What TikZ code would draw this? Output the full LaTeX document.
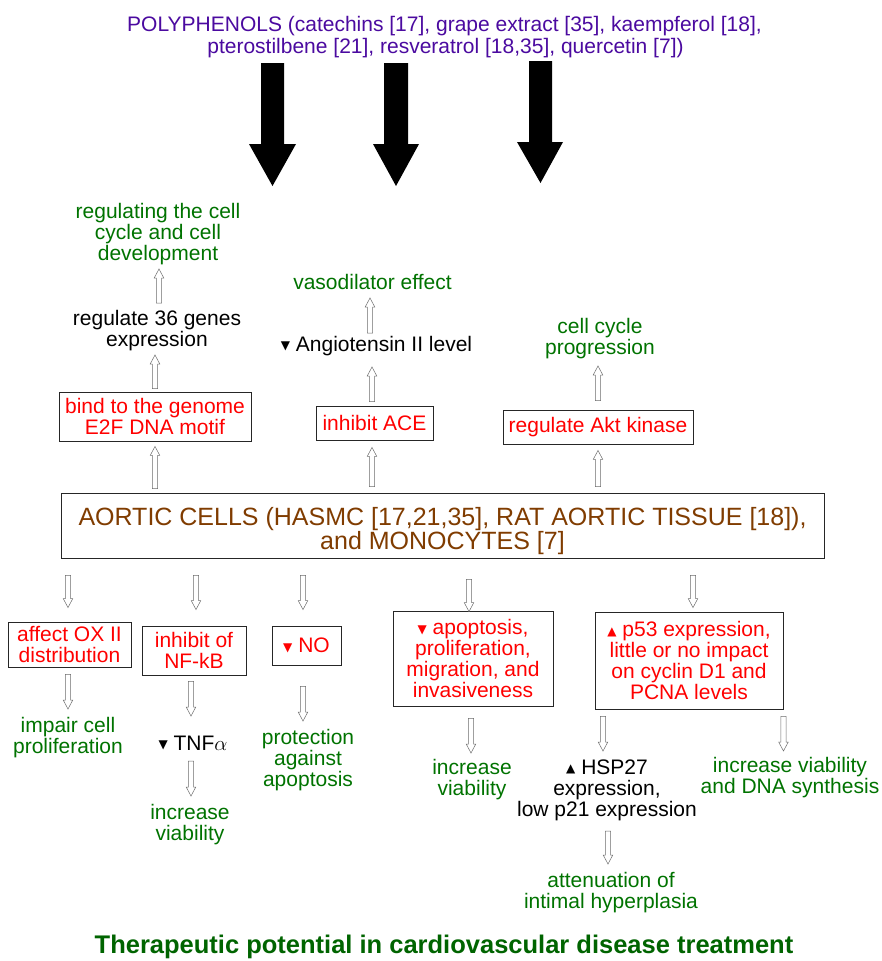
\documentclass[tikz,border=0pt]{standalone}
\usepackage{fontspec}
\setmainfont{Liberation Sans}
\newfontfamily\symfont{DejaVu Sans}
\usetikzlibrary{calc}
\definecolor{tpurple}{RGB}{75,10,160}
\definecolor{tbrown}{RGB}{128,60,0}
\definecolor{tgreen}{RGB}{0,115,0}
\definecolor{tdgreen}{RGB}{0,100,0}
\newcommand{\tdn}{\raisebox{1.5pt}{\symfont\fontsize{12}{12}\selectfont ▼}}
\newcommand{\tup}{\raisebox{1.5pt}{\symfont\fontsize{12}{12}\selectfont ▲}}
\begin{document}
\begin{tikzpicture}[x=1pt,y=-1pt,
  every node/.style={font=\fontsize{21}{21}\selectfont, align=center, inner sep=0pt},
  box/.style={draw=black!85, line width=0.9pt, text=red},
  gtext/.style={text=tgreen},
  hollow/.style={draw=gray!85!black, line width=0.5pt, fill=white,
    to path={let \p1=(\tikztostart), \p2=(\tikztotarget), \n1={2*(\y2>\y1)-1} in
      (\x1-2.6pt,\y1) -- (\x1-2.6pt,{\y2-\n1*9pt}) -- (\x1-4.8pt,{\y2-\n1*9pt}) -- (\x1,\y2)
      -- (\x1+4.8pt,{\y2-\n1*9pt}) -- (\x1+2.6pt,{\y2-\n1*9pt}) -- (\x1+2.6pt,\y1) -- cycle}}
]
\useasboundingbox (0,0) rectangle (882,961);
\fill[white] (0,0) rectangle (882,961);

% title
\node[text=tpurple] (t1) at (444.5,26) {POLYPHENOLS (catechins [17], grape extract [35], kaempferol [18],};
\node[text=tpurple] (t2) at (445.5,48) {pterostilbene [21], resveratrol [18,35], quercetin [7])};

% big black arrows
\fill (261,63) -- (284,63) -- (284,144) -- (296,144) -- (272.5,186) -- (249,144) -- (261,144) -- cycle;
\fill (384,63) -- (408,63) -- (408,144) -- (419,144) -- (396,186) -- (373,144) -- (384,144) -- cycle;
\fill (529,61) -- (552,61) -- (552,142) -- (563,142) -- (540.5,183) -- (517,142) -- (529,142) -- cycle;

% upper nodes
\node[gtext] (regcell) at (158,234) {regulating the cell\\cycle and cell\\development};
\node (reg36) at (157,331) {regulate 36 genes\\expression};
\node[box, minimum width=192, minimum height=49] (bind) at (155,416.5) {bind to the genome\\E2F DNA motif};
\node[gtext] (vaso) at (372.5,282) {vasodilator effect};
\node (angio) at (376.5,346) {\tdn\ Angiotensin II level};
\node[box, minimum width=117, minimum height=34] (ace) at (374.5,423) {inhibit ACE};
\node[gtext] (cellcyc) at (600,338.5) {cell cycle\\progression};
\node[box, minimum width=190, minimum height=34] (akt) at (598,427) {regulate Akt kinase};

% aortic
\node[box, text=tbrown, minimum width=763, minimum height=65, font=\fontsize{25}{21.6}\selectfont] (aortic) at (442.5,525.5) {\rule{0pt}{29pt}AORTIC CELLS (HASMC [17,21,35], RAT AORTIC TISSUE [18]),\\and MONOCYTES [7]};

% lower nodes
\node[box, minimum width=123, minimum height=45] (ox) at (69.5,644.5) {affect OX II\\distribution};
\node[box, minimum width=104, minimum height=49] (nfkb) at (194,650.5) {inhibit of\\NF-kB};
\node[box, minimum width=69, minimum height=39] (no) at (306.5,645.5) {\tdn\ NO};
\node[box, minimum width=160, minimum height=95] (apop) at (473,658.5) {\tdn\ apoptosis,\\proliferation,\\migration, and\\invasiveness};
\node[box, minimum width=188, minimum height=97] (p53) at (689,660.5) {\tup\ p53 expression,\\little or no impact\\on cyclin D1 and\\PCNA levels};
\node[gtext] (impair) at (68,737.5) {impair cell\\proliferation};
\node (tnf) at (193,743) {\tdn\ TNF$\alpha$};
\node[gtext] (incv1) at (190,824.5) {increase\\viability};
\node[gtext] (prot) at (308,760) {protection\\against\\apoptosis};
\node[gtext] (incv2) at (472,779.5) {increase\\viability};
\node (hsp) at (607,790) {\tup\ HSP27\\expression,\\low p21 expression};
\node[gtext] (incdna) at (790,777.5) {increase viability\\and DNA synthesis};
\node[gtext] (atten) at (611,892.5) {attenuation of\\intimal hyperplasia};
\node[text=tdgreen, font=\bfseries\fontsize{25.5}{25.5}\selectfont] (bottom) at (444,947) {Therapeutic potential in cardiovascular disease treatment};

% hollow arrows (up)
\draw[hollow] ($(aortic.north -| bind.center)+(0,-4)$) to ($(bind.south)+(0,5)$);
\draw[hollow] ($(bind.north)+(0,-3)$) to ($(reg36.center)+(0,24)$);
\draw[hollow] ($(reg36.center)+(2,-28)$) to ($(regcell.center)+(1,35)$);
\draw[hollow] ($(aortic.north -| ace.center)+(-2.5,-6)$) to ($(ace.south)+(-2.5,7)$);
\draw[hollow] ($(ace.north)+(-2.5,-4)$) to ($(angio.center)+(-4.5,21)$);
\draw[hollow] ($(angio.center)+(-6.5,-13)$) to ($(vaso.center)+(-2.5,16)$);
\draw[hollow] ($(aortic.north -| akt.center)+(0,-6)$) to ($(akt.south)+(0,6)$);
\draw[hollow] ($(akt.north)+(0,-9)$) to ($(cellcyc.center)+(-2,27.5)$);

% hollow arrows (down)
\draw[hollow] ($(aortic.south -| ox.center)+(-1.5,17)$) to ($(ox.north)+(-1.5,-14)$);
\draw[hollow] ($(aortic.south -| nfkb.center)+(2,17)$) to ($(nfkb.north)+(2,-16)$);
\draw[hollow] ($(aortic.south -| no.center)+(-3.5,17)$) to ($(no.north)+(-3.5,-16)$);
\draw[hollow] ($(aortic.south -| apop.center)+(-4,21)$) to ($(apop.north)+(-4,1)$);
\draw[hollow] ($(aortic.south -| p53.center)+(4,17)$) to ($(p53.north)+(4,-4)$);
\draw[hollow] ($(ox.south)+(-1.5,7)$) to ($(impair.center)+(0,-28.5)$);
\draw[hollow] ($(nfkb.south)+(-3,6)$) to ($(tnf.center)+(-2,-27)$);
\draw[hollow] ($(tnf.center)+(-2,18)$) to ($(incv1.center)+(1,-28.5)$);
\draw[hollow] ($(no.south)+(-3.5,21)$) to ($(prot.center)+(-5,-39)$);
\draw[hollow] ($(apop.south)+(-2,12)$) to ($(incv2.center)+(-1,-26.5)$);
\draw[hollow] ($(p53.south -| hsp.center)+(-4,7)$) to ($(hsp.center)+(-4,-39)$);
\draw[hollow] ($(p53.south east)+(0,7)$) to ($(incdna.center)+(-7,-26.5)$);
\draw[hollow] ($(hsp.center)+(1,41)$) to ($(atten.center)+(-3,-28.5)$);
\end{tikzpicture}
\end{document}
